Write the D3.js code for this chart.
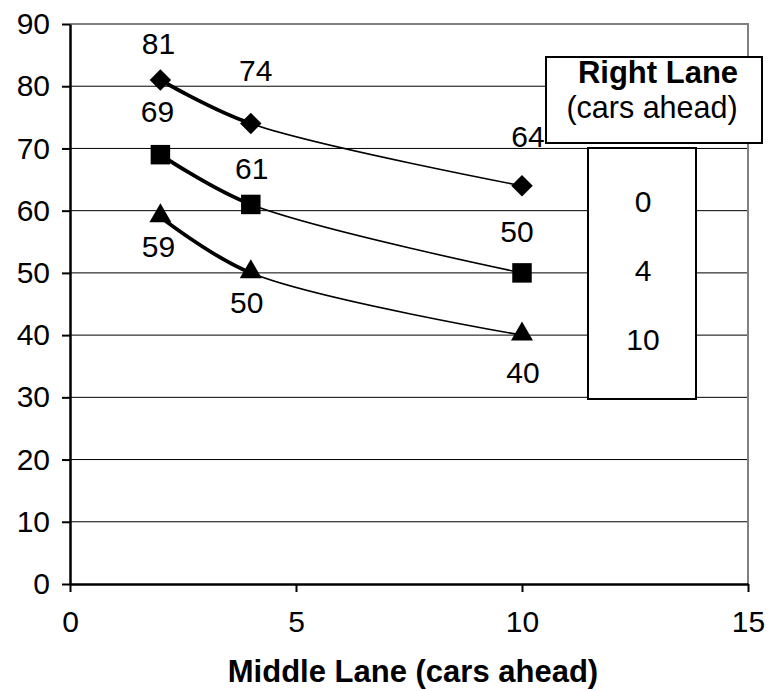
<!DOCTYPE html>
<html>
<head>
<meta charset="utf-8">
<script src="https://cdn.jsdelivr.net/npm/d3@7/dist/d3.min.js"></script>
<style>
  body { margin: 0; background: #fff; }
  text { font-family: "Liberation Sans", Arial, sans-serif; fill: #000; }
</style>
</head>
<body>
<svg id="chart" width="769" height="691"></svg>
<script>
// ---- data ----
const middleLane = [2, 4, 10];              // x values (cars ahead, middle lane)
const rightLaneLabels = ["0", "4", "10"];   // series names (cars ahead, right lane)
const series0 = [81, 74, 64];
const series4 = [69, 61, 50];
const series10 = [59, 50, 40];
const xTicks = [0, 5, 10, 15];
const yTicks = [0, 10, 20, 30, 40, 50, 60, 70, 80, 90];
const xTitle = "Middle Lane (cars ahead)";
const legendTitle = "Right Lane";
const legendSub = "(cars ahead)";

// ---- layout ----
const svg = d3.select("#chart");
const x = d3.scaleLinear().domain([0, 15]).range([70, 748]);
const y = d3.scaleLinear().domain([0, 90]).range([584, 24]);
const FS = 30;

const seriesList = [
  { name: rightLaneLabels[0], values: series0, marker: "diamond",
    lab: [[-2, -37], [5, -53], [6, -49]] },
  { name: rightLaneLabels[1], values: series4, marker: "square",
    lab: [[-3, -43], [1, -36], [-5, -41]] },
  { name: rightLaneLabels[2], values: series10, marker: "triangle",
    lab: [[-2, 30], [-4, 30], [1, 37]] }
];

// gridlines
svg.append("g").selectAll("line").data(yTicks.filter(d => d > 0 && d < 90)).join("line")
  .attr("x1", x(0)).attr("x2", x(15))
  .attr("y1", d => y(d)).attr("y2", d => y(d))
  .attr("stroke", "#000").attr("stroke-width", 1);

// plot border top/right (gray)
svg.append("path")
  .attr("d", `M${x(0)},${y(90)}H${x(15)}V${y(0)}`)
  .attr("fill", "none").attr("stroke", "#808080").attr("stroke-width", 2);

// axes
const yAxis = svg.append("g").attr("transform", `translate(${x(0)},0)`)
  .call(d3.axisLeft(y).tickValues(yTicks).tickSize(8).tickSizeOuter(0).tickPadding(12));
const xAxis = svg.append("g").attr("transform", `translate(0,${y(0)})`)
  .call(d3.axisBottom(x).tickValues(xTicks).tickSize(8).tickSizeOuter(0).tickPadding(19));
[yAxis, xAxis].forEach(g => {
  g.select(".domain").attr("stroke", "#000").attr("stroke-width", 2.5);
  g.selectAll(".tick line").attr("stroke", "#000").attr("stroke-width", 2);
  g.selectAll(".tick text").attr("font-size", FS).attr("font-family", "Liberation Sans, Arial, sans-serif").attr("fill", "#000");
});

// lines
const line = d3.line().x(d => x(d[0])).y(d => y(d[1])).curve(d3.curveCatmullRom.alpha(0.5));
svg.append("defs").append("clipPath").attr("id", "firstSeg")
  .append("rect").attr("x", x(middleLane[0])).attr("y", 0)
  .attr("width", x(middleLane[1]) - x(middleLane[0])).attr("height", 691);

seriesList.forEach(s => {
  const pts = middleLane.map((m, i) => [m, s.values[i]]);
  svg.append("path").attr("d", line(pts)).attr("fill", "none")
    .attr("stroke", "#000").attr("stroke-width", 1.6);
  svg.append("path").attr("d", line(pts)).attr("fill", "none")
    .attr("stroke", "#000").attr("stroke-width", 3.8).attr("clip-path", "url(#firstSeg)");
});

// markers
const symSize = { diamond: 230, square: 380, triangle: 210 };
const symType = { square: d3.symbolSquare, triangle: d3.symbolTriangle };
seriesList.forEach(s => {
  middleLane.forEach((m, i) => {
    const path = s.marker === "diamond"
      ? d3.symbol().type(d3.symbolSquare).size(symSize.diamond)()
      : d3.symbol().type(symType[s.marker]).size(symSize[s.marker])();
    svg.append("path").attr("d", path)
      .attr("transform", `translate(${x(m)},${y(s.values[i]) + (s.marker === "triangle" ? -1 : 0)})` + (s.marker === "diamond" ? " rotate(45)" : ""))
      .attr("fill", "#000");
  });
});

// data labels
seriesList.forEach(s => {
  middleLane.forEach((m, i) => {
    svg.append("text").attr("x", x(m) + s.lab[i][0]).attr("y", y(s.values[i]) + s.lab[i][1])
      .attr("text-anchor", "middle").attr("dominant-baseline", "central")
      .attr("font-size", FS).text(s.values[i]);
  });
});

// legend title box
svg.append("rect").attr("x", 546).attr("y", 57).attr("width", 216).attr("height", 86)
  .attr("fill", "#fff").attr("stroke", "#000").attr("stroke-width", 2);
svg.append("text").attr("x", 658).attr("y", 83).attr("text-anchor", "middle")
  .attr("font-size", 31).attr("font-weight", "bold").text(legendTitle);
svg.append("text").attr("x", 652).attr("y", 118).attr("text-anchor", "middle")
  .attr("font-size", 30.5).text(legendSub);

// legend values box
svg.append("rect").attr("x", 588).attr("y", 148).attr("width", 108).attr("height", 251)
  .attr("fill", "#fff").attr("stroke", "#000").attr("stroke-width", 2);
rightLaneLabels.forEach((t, i) => {
  svg.append("text").attr("x", 643).attr("y", 212 + i * 69).attr("text-anchor", "middle")
    .attr("font-size", FS).text(t);
});

// x axis title
svg.append("text").attr("x", 413).attr("y", 682).attr("text-anchor", "middle")
  .attr("font-size", 31).attr("font-weight", "bold").text(xTitle);
</script>
</body>
</html>
